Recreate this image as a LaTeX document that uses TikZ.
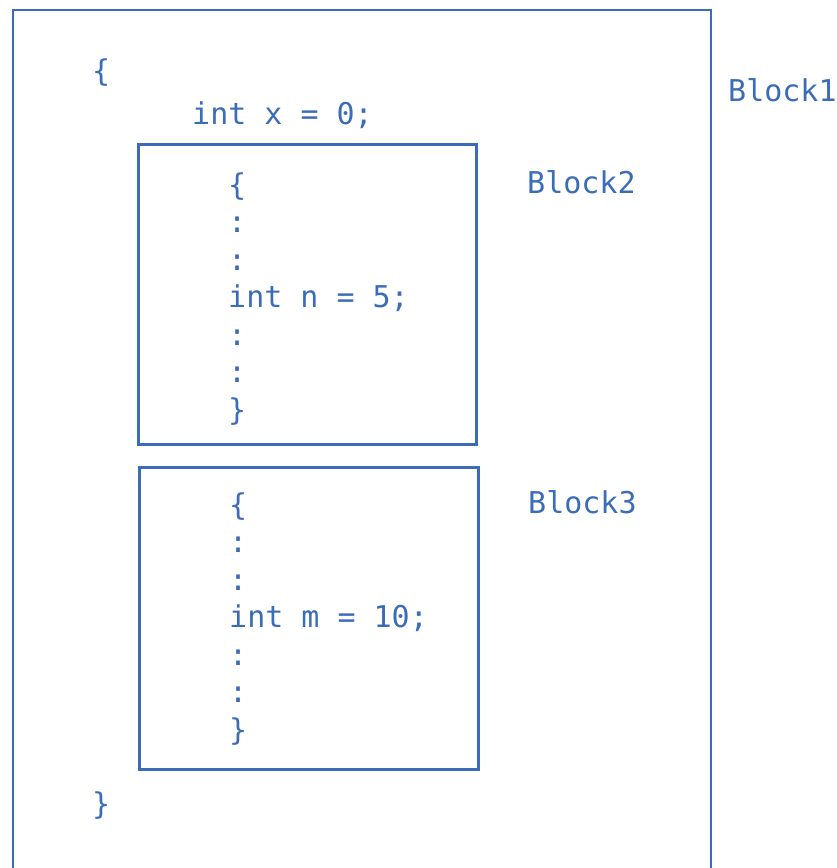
\documentclass[tikz,border=0pt]{standalone}
\usepackage{fontspec}
\setmonofont{DejaVu Sans Mono}
\usepackage{tikz}
\usetikzlibrary{positioning}
\definecolor{codeblue}{RGB}{58,108,184}

\tikzset{
	code/.style={text=codeblue, font=\ttfamily\fontsize{30}{34}\selectfont,
		anchor=west, inner sep=0pt, text height=1.5ex, text depth=.25ex},
	blockbox/.style={draw=codeblue, line width=2.6pt, inner sep=0pt},
}

\begin{document}
\begin{tikzpicture}[x=1pt,y=-1pt]
				\useasboundingbox (0,0) rectangle (837,868);

				% outer block, open at the bottom
				\draw [codeblue, line width=2.6pt]
					(13,868) -- (13,10) -- (711,10) -- (711,868);

				\node [code] (open1)  at (92,79)  {\{};
				\node [code] (declx)  at (192,122) {int x = 0;};
				\node [code] (close1) at (92,812) {\}};
				\node [code] (block1) at (728,99) {Block1};

				% inner blocks
				\node [blockbox, minimum width=338pt, minimum height=300pt,
					anchor=north west] (box2) at (137,143) {};
				\node [blockbox, minimum width=339pt, minimum height=302pt,
					anchor=north west] (box3) at (138,466) {};

				\foreach \i/\txt in {1/\{,2/:,3/:,4/int n = 5;,5/:,6/:,7/\}} {
					\node [code] (b2-\i) at (228,155+37.5*\i) {\txt};
				}
				\foreach \i/\txt in {1/\{,2/:,3/:,4/int m = 10;,5/:,6/:,7/\}} {
					\node [code] (b3-\i) at (229,475+37.5*\i) {\txt};
				}

				\node [code] (block2) at (527,191) {Block2};
				\node [code] (block3) at (528,511) {Block3};
			\end{tikzpicture}
\end{document}
